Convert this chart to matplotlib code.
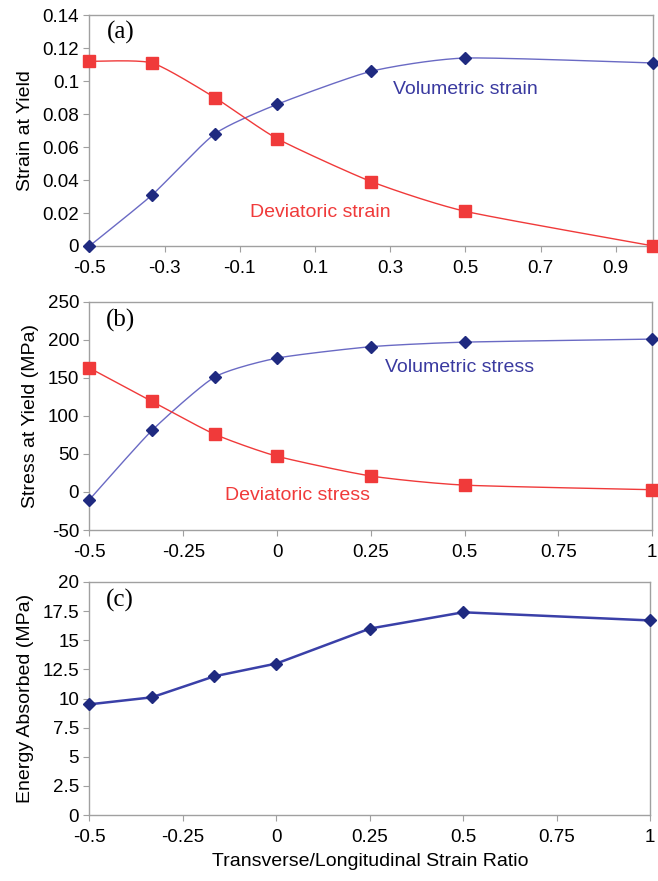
import matplotlib.pyplot as plt
import numpy as np

plt.rcParams['font.family'] = ['Liberation Sans', 'DejaVu Sans']
plt.rcParams['axes.unicode_minus'] = False

ratio = [-0.5, -1/3, -1/6, 0.0, 0.25, 0.5, 1.0]
vol_strain = [0.0, 0.031, 0.068, 0.086, 0.106, 0.114, 0.111]
dev_strain = [0.112, 0.111, 0.090, 0.065, 0.039, 0.021, 0.0]
vol_stress = [-10, 81, 151, 176, 191, 197, 201]
dev_stress = [163, 119, 76, 47, 21, 9, 3]
energy = [9.5, 10.1, 11.9, 13.0, 16.0, 17.4, 16.7]

blue_line = '#6a6ac4'
blue_mark = '#1f2a80'
red = '#f03a3a'
frame = '#a0a0a0'


def smooth(x, y, n=30, k=10.0):
    # smoothed line through the points, like Excel's "smoothed line"
    x = np.asarray(x, float)
    y = np.asarray(y, float)
    px = np.concatenate([[x[0]], x, [x[-1]]])
    py = np.concatenate([[y[0]], y, [y[-1]]])
    xs, ys = [], []
    t = np.linspace(0, 1, n)
    for i in range(1, len(px) - 2):
        p0, p1, p2, p3 = px[i-1], px[i], px[i+1], px[i+2]
        q0, q1, q2, q3 = py[i-1], py[i], py[i+1], py[i+2]
        c1x, c1y = p1 + (p2 - p0) / k, q1 + (q2 - q0) / k
        c2x, c2y = p2 - (p3 - p1) / k, q2 - (q3 - q1) / k
        bx = (1-t)**3*p1 + 3*(1-t)**2*t*c1x + 3*(1-t)*t**2*c2x + t**3*p2
        by = (1-t)**3*q1 + 3*(1-t)**2*t*c1y + 3*(1-t)*t**2*c2y + t**3*q2
        xs.extend(bx)
        ys.extend(by)
    return xs, ys


fig = plt.figure(figsize=(6.58, 8.81), dpi=100)
ax_a = fig.add_axes([0.136, 0.7208, 0.857, 0.262])
ax_b = fig.add_axes([0.136, 0.3984, 0.855, 0.259])
ax_c = fig.add_axes([0.136, 0.0749, 0.852, 0.2645])


def style(ax):
    for s in ax.spines.values():
        s.set_color(frame)
        s.set_linewidth(1.0)
    ax.tick_params(direction='out', color=frame, length=4, labelsize=13.5,
                   top=False, right=False)
    ax.tick_params(axis='x', pad=6)


def series(ax, x, y, color, marker, ms):
    sx, sy = smooth(x, y)
    ax.plot(sx, sy, '-', color=color, lw=1.0, clip_on=False, zorder=2)
    mc = blue_mark if marker == 'D' else red
    ax.plot(x, y, ls='none', marker=marker, ms=ms, mfc=mc, mec=mc,
            clip_on=False, zorder=3)


# (a)
series(ax_a, ratio, vol_strain, blue_line, 'D', 6.3)
series(ax_a, ratio, dev_strain, red, 's', 8.5)
ax_a.set_xlim(-0.5, 1)
ax_a.set_ylim(0, 0.14)
ax_a.set_xticks([-0.5, -0.3, -0.1, 0.1, 0.3, 0.5, 0.7, 0.9])
ax_a.set_xticklabels(['-0.5', '-0.3', '-0.1', '0.1', '0.3', '0.5', '0.7', '0.9'])
ax_a.set_yticks(np.arange(0, 0.141, 0.02))
ax_a.set_yticklabels(['0', '0.02', '0.04', '0.06', '0.08', '0.1', '0.12', '0.14'])
ax_a.set_ylabel('Strain at Yield', fontsize=14, labelpad=6)
ax_a.text(0.5, 0.0952, 'Volumetric strain', color='#3a3aa0', fontsize=14,
          ha='center', va='center')
ax_a.text(0.113, 0.0206, 'Deviatoric strain', color=red, fontsize=14,
          ha='center', va='center')
ax_a.text(0.03, 0.925, '(a)', transform=ax_a.transAxes, fontsize=18,
          family='Liberation Serif', va='center')
style(ax_a)

# (b)
series(ax_b, ratio, vol_stress, blue_line, 'D', 6.3)
series(ax_b, ratio, dev_stress, red, 's', 8.5)
ax_b.set_xlim(-0.5, 1)
ax_b.set_ylim(-50, 250)
ax_b.set_xticks([-0.5, -0.25, 0, 0.25, 0.5, 0.75, 1])
ax_b.set_xticklabels(['-0.5', '-0.25', '0', '0.25', '0.5', '0.75', '1'])
ax_b.set_yticks(np.arange(-50, 251, 50))
ax_b.set_ylabel('Stress at Yield (MPa)', fontsize=14, labelpad=6)
ax_b.text(0.486, 164, 'Volumetric stress', color='#3a3aa0', fontsize=14,
          ha='center', va='center')
ax_b.text(0.054, -5, 'Deviatoric stress', color=red, fontsize=14,
          ha='center', va='center')
ax_b.text(0.03, 0.92, '(b)', transform=ax_b.transAxes, fontsize=18,
          family='Liberation Serif', va='center')
style(ax_b)

# (c)
ax_c.plot(ratio, energy, '-', color='#3a40a8', lw=1.8, marker='D', ms=6.3,
          mfc=blue_mark, mec=blue_mark, clip_on=False, zorder=3)
ax_c.set_xlim(-0.5, 1)
ax_c.set_ylim(0, 20)
ax_c.set_xticks([-0.5, -0.25, 0, 0.25, 0.5, 0.75, 1])
ax_c.set_xticklabels(['-0.5', '-0.25', '0', '0.25', '0.5', '0.75', '1'])
ax_c.set_yticks(np.arange(0, 20.1, 2.5))
ax_c.set_yticklabels(['0', '2.5', '5', '7.5', '10', '12.5', '15', '17.5', '20'])
ax_c.set_ylabel('Energy Absorbed (MPa)', fontsize=14, labelpad=6)
ax_c.set_xlabel('Transverse/Longitudinal Strain Ratio', fontsize=14, labelpad=5)
ax_c.text(0.03, 0.92, '(c)', transform=ax_c.transAxes, fontsize=18,
          family='Liberation Serif', va='center')
style(ax_c)

fig.savefig('out.png', dpi=100)
